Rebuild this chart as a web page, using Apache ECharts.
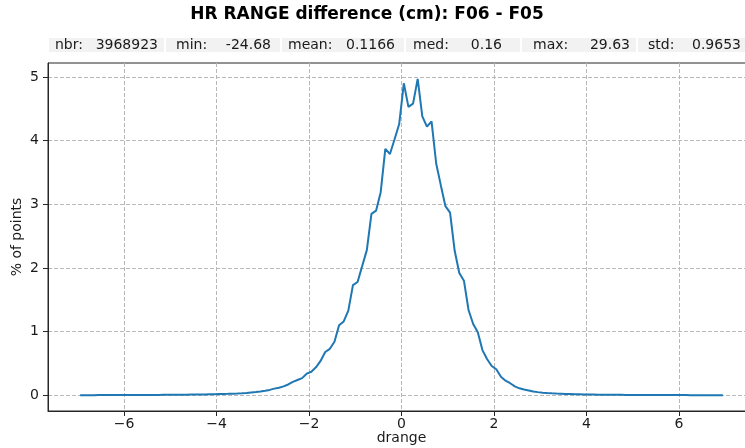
<!DOCTYPE html>
<html>
<head>
<meta charset="utf-8">
<script src="https://cdn.jsdelivr.net/npm/echarts@6/dist/echarts.min.js"></script>
<style>
  html, body { margin: 0; padding: 0; background: #ffffff; }
  #chart { width: 745px; height: 448px; }
</style>
</head>
<body>
<div id="chart"></div>
<script>
// Histogram of range differences, bin width 0.1 cm (bin centres)
const binCenters = [
  -6.95, -6.85, -6.75, -6.65, -6.55, -6.45, -6.35, -6.25, -6.15, -6.05,
  -5.95, -5.85, -5.75, -5.65, -5.55, -5.45, -5.35, -5.25, -5.15, -5.05,
  -4.95, -4.85, -4.75, -4.65, -4.55, -4.45, -4.35, -4.25, -4.15, -4.05,
  -3.95, -3.85, -3.75, -3.65, -3.55, -3.45, -3.35, -3.25, -3.15, -3.05,
  -2.95, -2.85, -2.75, -2.65, -2.55, -2.45, -2.35, -2.25, -2.15, -2.05,
  -1.95, -1.85, -1.75, -1.65, -1.55, -1.45, -1.35, -1.25, -1.15, -1.05,
  -0.95, -0.85, -0.75, -0.65, -0.55, -0.45, -0.35, -0.25, -0.15, -0.05,
   0.05,  0.15,  0.25,  0.35,  0.45,  0.55,  0.65,  0.75,  0.85,  0.95,
   1.05,  1.15,  1.25,  1.35,  1.45,  1.55,  1.65,  1.75,  1.85,  1.95,
   2.05,  2.15,  2.25,  2.35,  2.45,  2.55,  2.65,  2.75,  2.85,  2.95,
   3.05,  3.15,  3.25,  3.35,  3.45,  3.55,  3.65,  3.75,  3.85,  3.95,
   4.05,  4.15,  4.25,  4.35,  4.45,  4.55,  4.65,  4.75,  4.85,  4.95,
   5.05,  5.15,  5.25,  5.35,  5.45,  5.55,  5.65,  5.75,  5.85,  5.95,
   6.05,  6.15,  6.25,  6.35,  6.45,  6.55,  6.65,  6.75,  6.85,  6.95
];

// Percentage of points falling in each bin
const pctPoints = [
  0.002, 0.002, 0.002, 0.002, 0.003, 0.003, 0.003, 0.003, 0.003, 0.004,
  0.004, 0.004, 0.004, 0.005, 0.005, 0.005, 0.006, 0.006, 0.007, 0.007,
  0.008, 0.008, 0.009, 0.010, 0.011, 0.012, 0.013, 0.014, 0.016, 0.017,
  0.019, 0.021, 0.023, 0.026, 0.029, 0.033, 0.038, 0.045, 0.052, 0.060,
  0.070, 0.085, 0.105, 0.120, 0.140, 0.170, 0.210, 0.240, 0.270, 0.340,
  0.370, 0.440, 0.540, 0.680, 0.730, 0.840, 1.100, 1.160, 1.330, 1.730,
  1.780, 2.030, 2.280, 2.850, 2.900, 3.190, 3.870, 3.790, 4.020, 4.260,
  4.900, 4.530, 4.580, 4.970, 4.380, 4.220, 4.300, 3.640, 3.300, 2.970,
  2.870, 2.270, 1.920, 1.800, 1.340, 1.120, 0.990, 0.710, 0.570, 0.460,
  0.410, 0.290, 0.230, 0.190, 0.140, 0.110, 0.090, 0.075, 0.060, 0.050,
  0.042, 0.036, 0.031, 0.027, 0.024, 0.021, 0.019, 0.017, 0.015, 0.013,
  0.012, 0.011, 0.010, 0.009, 0.008, 0.008, 0.007, 0.007, 0.006, 0.006,
  0.005, 0.005, 0.005, 0.004, 0.004, 0.004, 0.004, 0.003, 0.003, 0.003,
  0.003, 0.003, 0.002, 0.002, 0.002, 0.002, 0.002, 0.002, 0.002, 0.002
];

const xTicks = [-6, -4, -2, 0, 2, 4, 6];
const yTicks = [0, 1, 2, 3, 4, 5];

// Summary statistics shown under the title
const statNames  = ['nbr:', 'min:', 'mean:', 'med:', 'max:', 'std:'];
const statValues = ['3968923', '-24.68', '0.1166', '0.16', '29.63', '0.9653'];

const titleText = 'HR RANGE difference (cm): F06 - F05';
const xLabel = 'drange';
const yLabel = '% of points';

// ---- layout ----
const FONT = 'DejaVu Sans';
const TEXT = '#1a1a1a';
const plot = { left: 48, top: 63, width: 707, height: 348 };

// 5% padding around the data range on both axes
function padded(vals) {
  const lo = Math.min(...vals), hi = Math.max(...vals);
  const m = (hi - lo) * 0.05;
  return [lo - m, hi + m];
}
const [xMin, xMax] = padded(binCenters);
const [yMin, yMax] = padded(pctPoints);

const minusSign = v => String(v).replace('-', '\u2212');

// stats strip: cell edges and text anchors
const cellEdges = [48, 165, 281, 405, 521, 637, 760];
const nameX  = [55, 176, 288, 413, 533, 648];
const valueR = [158, 271, 395, 502, 630, 741];

const graphics = [{
  type: 'text', x: 367, y: 15,
  style: { text: titleText, font: 'bold 17px "' + FONT + '"', fill: '#000', textAlign: 'center', textVerticalAlign: 'middle' }
}];
for (let i = 0; i < statNames.length; i++) {
  graphics.push({
    type: 'rect', silent: true,
    shape: { x: cellEdges[i] + 1, y: 38, width: cellEdges[i + 1] - cellEdges[i] - 2, height: 14 },
    style: { fill: '#f2f2f2' }
  });
  graphics.push({
    type: 'text', x: nameX[i], y: 45,
    style: { text: statNames[i], font: '14px "' + FONT + '"', fill: TEXT, textAlign: 'left', textVerticalAlign: 'middle' }
  });
  graphics.push({
    type: 'text', x: valueR[i], y: 45,
    style: { text: statValues[i], font: '14px "' + FONT + '"', fill: TEXT, textAlign: 'right', textVerticalAlign: 'middle' }
  });
}

const chart = echarts.init(document.getElementById('chart'), null, { renderer: 'canvas' });
chart.setOption({
  animation: false,
  backgroundColor: '#ffffff',
  textStyle: { fontFamily: FONT },
  graphic: graphics,
  grid: Object.assign({
    show: true, borderColor: '#262626', borderWidth: 1, backgroundColor: 'transparent',
    containLabel: false, outerBoundsMode: 'none'
  }, plot),
  xAxis: {
    type: 'value', min: xMin, max: xMax,
    name: xLabel, nameLocation: 'middle', nameGap: 20, nameMoveOverlap: false,
    nameTextStyle: { fontSize: 14, color: TEXT, fontFamily: FONT },
    axisLine: { show: true, onZero: false, lineStyle: { color: '#262626', width: 1 } },
    axisTick: { show: true, inside: false, length: 5, customValues: xTicks, lineStyle: { color: '#262626' } },
    axisLabel: { customValues: xTicks, margin: 6, fontSize: 14, color: TEXT, fontFamily: FONT, formatter: minusSign },
    splitLine: { show: true, lineStyle: { color: '#b8b8b8', width: 1, type: [4, 2] } }
  },
  yAxis: {
    type: 'value', min: yMin, max: yMax,
    name: yLabel, nameLocation: 'middle', nameGap: 24, nameRotate: 90, nameMoveOverlap: false,
    nameTextStyle: { fontSize: 14, color: TEXT, fontFamily: FONT },
    axisLine: { show: true, onZero: false, lineStyle: { color: '#262626', width: 1 } },
    axisTick: { show: true, inside: false, length: 5, customValues: yTicks, lineStyle: { color: '#262626' } },
    axisLabel: { customValues: yTicks, margin: 9, fontSize: 14, color: TEXT, fontFamily: FONT, formatter: minusSign },
    splitLine: { show: true, lineStyle: { color: '#b8b8b8', width: 1, type: [4, 2] } }
  },
  series: [{
    type: 'line',
    data: binCenters.map((x, i) => [x, pctPoints[i]]),
    showSymbol: false,
    smooth: false,
    lineStyle: { color: '#1f77b4', width: 2 },
    itemStyle: { color: '#1f77b4' },
    clip: true
  }]
});
</script>
</body>
</html>
